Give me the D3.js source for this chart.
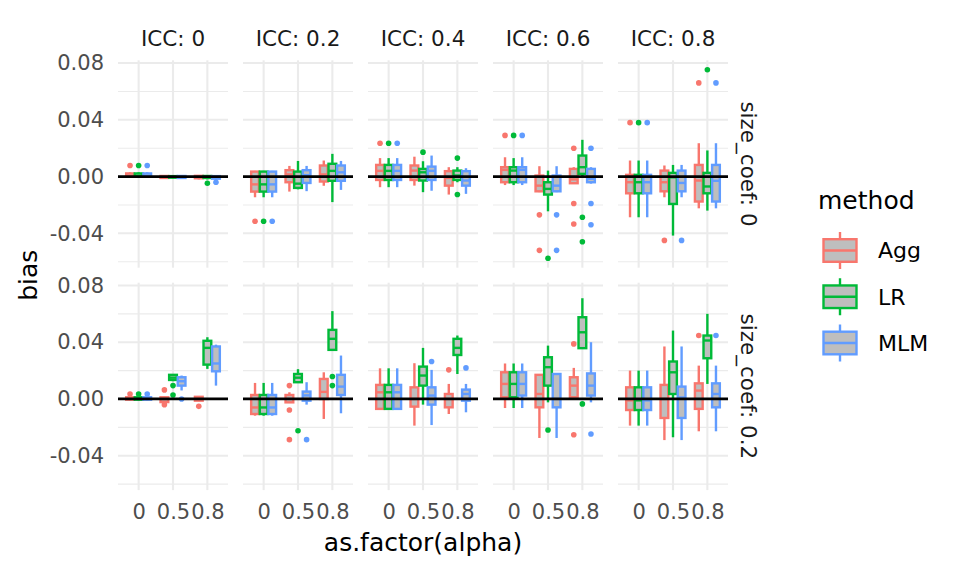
<!DOCTYPE html>
<html>
<head>
<meta charset="utf-8">
<script src="https://cdn.jsdelivr.net/npm/d3@7"></script>
<style>
  body { margin: 0; background: #fff; }
  text { font-family: "DejaVu Sans", "Liberation Sans", Arial, sans-serif; }
</style>
</head>
<body>
<svg id="chart" width="960" height="576"></svg>
<script>
// facet levels
const iccLevels = [0, 0.2, 0.4, 0.6, 0.8];
const sizeCoefs = [0, 0.2];
const alphaLevels = ["0", "0.5", "0.8"];
const methods = ["Agg", "LR", "MLM"];
const methodColors = ["#F8766D", "#00BA38", "#619CFF"];
const yTicks = [-0.04, 0, 0.04, 0.08];
const yMinor = [-0.06, -0.02, 0.02, 0.06];

// box stats: [icc, alpha, method, lower, q1, median, q3, upper]
const boxesSize0 = [
  [0, "0", "Agg", -0.0003, 0, 0.0005, 0.0022, 0.003],
  [0, "0", "LR", -0.0003, 0, 0.0005, 0.0022, 0.003],
  [0, "0", "MLM", -0.0003, 0, 0.0005, 0.0022, 0.003],
  [0, "0.5", "Agg", -0.0015, -0.001, -0.0002, 0.0004, 0.001],
  [0, "0.5", "LR", -0.0012, -0.0008, -0.0002, 0.0003, 0.0008],
  [0, "0.5", "MLM", -0.0015, -0.001, -0.0002, 0.0004, 0.001],
  [0, "0.8", "Agg", -0.002, -0.0012, -0.0003, 0.0005, 0.001],
  [0, "0.8", "LR", -0.002, -0.001, 0, 0.0004, 0.001],
  [0, "0.8", "MLM", -0.0025, -0.0015, -0.0005, 0.0003, 0.001],
  [0.2, "0", "Agg", -0.0146, -0.0106, -0.0055, 0.0035, 0.004],
  [0.2, "0", "LR", -0.0146, -0.0106, -0.0055, 0.0035, 0.004],
  [0.2, "0", "MLM", -0.0146, -0.0106, -0.0055, 0.0035, 0.004],
  [0.2, "0.5", "Agg", -0.0106, -0.004, 0.0015, 0.0045, 0.0075],
  [0.2, "0.5", "LR", -0.009, -0.008, -0.005, 0.0035, 0.011],
  [0.2, "0.5", "MLM", -0.0103, -0.0045, 0.001, 0.0045, 0.0075],
  [0.2, "0.8", "Agg", -0.0065, -0.0035, 0.0015, 0.0078, 0.0113],
  [0.2, "0.8", "LR", -0.018, -0.003, 0.004, 0.009, 0.016],
  [0.2, "0.8", "MLM", -0.0094, -0.003, 0.003, 0.0078, 0.011],
  [0.4, "0", "Agg", -0.0075, -0.0024, 0.004, 0.0082, 0.013],
  [0.4, "0", "LR", -0.0075, -0.0024, 0.004, 0.0082, 0.013],
  [0.4, "0", "MLM", -0.0075, -0.0024, 0.004, 0.0082, 0.013],
  [0.4, "0.5", "Agg", -0.0064, -0.0024, 0.0042, 0.0078, 0.014],
  [0.4, "0.5", "LR", -0.011, -0.0028, 0.003, 0.0054, 0.0108],
  [0.4, "0.5", "MLM", -0.01, -0.0024, 0.004, 0.007, 0.0148],
  [0.4, "0.8", "Agg", -0.0127, -0.0064, -0.001, 0.0038, 0.0066],
  [0.4, "0.8", "LR", -0.004, -0.0024, 0.0007, 0.0042, 0.0066],
  [0.4, "0.8", "MLM", -0.0122, -0.0064, -0.0028, 0.0038, 0.0059],
  [0.6, "0", "Agg", -0.006, -0.004, 0.0047, 0.0066, 0.0136],
  [0.6, "0", "LR", -0.006, -0.004, 0.0042, 0.0066, 0.013],
  [0.6, "0", "MLM", -0.006, -0.004, 0.0047, 0.0066, 0.0136],
  [0.6, "0.5", "Agg", -0.011, -0.0104, -0.0064, 0.0007, 0.0073],
  [0.6, "0.5", "LR", -0.0245, -0.0127, -0.0087, -0.004, 0.0042],
  [0.6, "0.5", "MLM", -0.011, -0.0104, -0.0064, 0.0007, 0.0073],
  [0.6, "0.8", "Agg", -0.005, -0.0047, -0.002, 0.0054, 0.0066],
  [0.6, "0.8", "LR", -0.0005, 0.0019, 0.0066, 0.0148, 0.0259],
  [0.6, "0.8", "MLM", -0.005, -0.004, -0.0016, 0.0054, 0.0066],
  [0.8, "0", "Agg", -0.0287, -0.0118, -0.004, 0.0012, 0.0113],
  [0.8, "0", "LR", -0.0287, -0.0118, -0.004, 0.0012, 0.0113],
  [0.8, "0", "MLM", -0.0287, -0.0118, -0.004, 0.0012, 0.0113],
  [0.8, "0.5", "Agg", -0.0146, -0.0104, -0.004, 0.0042, 0.0078],
  [0.8, "0.5", "LR", -0.0416, -0.0193, -0.0005, 0.0026, 0.0082],
  [0.8, "0.5", "MLM", -0.0146, -0.0104, -0.0045, 0.0042, 0.0082],
  [0.8, "0.8", "Agg", -0.0224, -0.0176, -0.0028, 0.0082, 0.0235],
  [0.8, "0.8", "LR", -0.024, -0.0118, -0.007, 0.0026, 0.0184],
  [0.8, "0.8", "MLM", -0.0224, -0.0176, -0.003, 0.0082, 0.0235]
];

const boxesSize02 = [
  [0, "0", "Agg", -0.001, -0.0005, 0.0003, 0.0012, 0.0018],
  [0, "0", "LR", -0.001, -0.0005, 0.0003, 0.0012, 0.0018],
  [0, "0", "MLM", -0.001, -0.0005, 0.0003, 0.0012, 0.0018],
  [0, "0.5", "Agg", -0.0025, -0.0022, -0.0002, 0.0012, 0.0016],
  [0, "0.5", "LR", 0.0125, 0.0134, 0.015, 0.017, 0.0175],
  [0, "0.5", "MLM", 0.006, 0.0094, 0.0125, 0.0153, 0.0165],
  [0, "0.8", "Agg", -0.0016, -0.0012, 0, 0.0015, 0.002],
  [0, "0.8", "LR", 0.0212, 0.0242, 0.036, 0.041, 0.0435],
  [0, "0.8", "MLM", 0.0094, 0.0195, 0.025, 0.037, 0.0383],
  [0.2, "0", "Agg", -0.0118, -0.0106, -0.006, 0.0028, 0.0113],
  [0.2, "0", "LR", -0.0118, -0.0106, -0.006, 0.0028, 0.0113],
  [0.2, "0", "MLM", -0.0118, -0.0106, -0.006, 0.0028, 0.0113],
  [0.2, "0.5", "Agg", -0.0028, -0.0024, 0, 0.0028, 0.0047],
  [0.2, "0.5", "LR", 0.0115, 0.0118, 0.015, 0.0176, 0.021],
  [0.2, "0.5", "MLM", -0.004, -0.0012, 0.0025, 0.0052, 0.0118],
  [0.2, "0.8", "Agg", -0.0141, 0, 0.005, 0.0141, 0.0188],
  [0.2, "0.8", "LR", 0.034, 0.0346, 0.0424, 0.0487, 0.0619],
  [0.2, "0.8", "MLM", -0.0101, 0.0028, 0.0087, 0.017, 0.0306],
  [0.4, "0", "Agg", -0.0075, -0.007, 0.0047, 0.0099, 0.0216],
  [0.4, "0", "LR", -0.0075, -0.007, 0.0047, 0.0099, 0.0216],
  [0.4, "0", "MLM", -0.0075, -0.007, 0.0047, 0.0099, 0.0216],
  [0.4, "0.5", "Agg", -0.0188, -0.0054, 0, 0.0082, 0.0252],
  [0.4, "0.5", "LR", -0.004, 0.0094, 0.0165, 0.0228, 0.036],
  [0.4, "0.5", "MLM", -0.0184, -0.004, 0.0024, 0.0082, 0.0205],
  [0.4, "0.8", "Agg", -0.0106, -0.0059, 0, 0.0035, 0.0106],
  [0.4, "0.8", "LR", 0.0176, 0.031, 0.036, 0.0424, 0.0447],
  [0.4, "0.8", "MLM", -0.0094, -0.0012, 0.0035, 0.0066, 0.0106],
  [0.6, "0", "Agg", -0.0064, 0.0012, 0.0106, 0.0188, 0.025],
  [0.6, "0", "LR", -0.0064, 0.0012, 0.0106, 0.0188, 0.025],
  [0.6, "0", "MLM", -0.0064, 0.0024, 0.0106, 0.0188, 0.025],
  [0.6, "0.5", "Agg", -0.0275, -0.0059, 0.0035, 0.017, 0.0175],
  [0.6, "0.5", "LR", -0.0024, 0.0094, 0.0224, 0.0294, 0.0376],
  [0.6, "0.5", "MLM", -0.0275, -0.0059, 0, 0.0176, 0.018],
  [0.6, "0.8", "Agg", 0.001, 0.0012, 0.0094, 0.0153, 0.0219],
  [0.6, "0.8", "LR", 0.0355, 0.0358, 0.047, 0.0576, 0.071],
  [0.6, "0.8", "MLM", -0.0024, 0.0024, 0.0094, 0.018, 0.04],
  [0.8, "0", "Agg", -0.0188, -0.0078, -0.001, 0.0082, 0.02],
  [0.8, "0", "LR", -0.0188, -0.0078, -0.001, 0.0082, 0.02],
  [0.8, "0", "MLM", -0.0188, -0.0078, -0.001, 0.0082, 0.02],
  [0.8, "0.5", "Agg", -0.029, -0.0134, 0, 0.0099, 0.037],
  [0.8, "0.5", "LR", -0.027, 0.0035, 0.0188, 0.0264, 0.0482],
  [0.8, "0.5", "MLM", -0.029, -0.0134, 0.001, 0.0087, 0.037],
  [0.8, "0.8", "Agg", -0.0228, -0.007, 0.0059, 0.011, 0.0235],
  [0.8, "0.8", "LR", 0.0106, 0.0287, 0.0412, 0.0447, 0.06],
  [0.8, "0.8", "MLM", -0.0228, -0.0059, 0.0035, 0.011, 0.0235]
];

// outlier points: [icc, alpha, method, value]
const outliersSize0 = [
  [0, "0", "Agg", 0.0078], [0, "0", "LR", 0.0078], [0, "0", "MLM", 0.0078],
  [0, "0.8", "LR", -0.0047], [0, "0.8", "MLM", -0.004],
  [0.2, "0", "Agg", -0.0315], [0.2, "0", "LR", -0.0315], [0.2, "0", "MLM", -0.0315],
  [0.4, "0", "Agg", 0.0235], [0.4, "0", "LR", 0.0235], [0.4, "0", "MLM", 0.0235],
  [0.4, "0.5", "LR", 0.0172],
  [0.4, "0.8", "LR", 0.013], [0.4, "0.8", "LR", -0.0127],
  [0.6, "0", "Agg", 0.029], [0.6, "0", "LR", 0.029], [0.6, "0", "MLM", 0.029],
  [0.6, "0.5", "Agg", -0.027], [0.6, "0.5", "Agg", -0.052], [0.6, "0.5", "LR", -0.0576],
  [0.6, "0.5", "MLM", -0.027], [0.6, "0.5", "MLM", -0.052],
  [0.6, "0.8", "Agg", 0.02], [0.6, "0.8", "Agg", -0.019], [0.6, "0.8", "Agg", -0.0334],
  [0.6, "0.8", "LR", -0.0287], [0.6, "0.8", "LR", -0.046],
  [0.6, "0.8", "MLM", 0.02], [0.6, "0.8", "MLM", -0.019], [0.6, "0.8", "MLM", -0.034],
  [0.8, "0", "Agg", 0.038], [0.8, "0", "LR", 0.038], [0.8, "0", "MLM", 0.038],
  [0.8, "0.5", "Agg", -0.045], [0.8, "0.5", "MLM", -0.045],
  [0.8, "0.8", "Agg", 0.066], [0.8, "0.8", "LR", 0.0753], [0.8, "0.8", "MLM", 0.066]
];

const outliersSize02 = [
  [0, "0", "Agg", 0.0035], [0, "0", "LR", 0.0035], [0, "0", "MLM", 0.0035],
  [0, "0.5", "Agg", 0.0064], [0, "0.5", "Agg", -0.004],
  [0, "0.5", "LR", 0.0094], [0, "0.5", "LR", 0.0028], [0, "0.5", "MLM", 0],
  [0, "0.8", "Agg", -0.0052],
  [0.2, "0.5", "Agg", 0.0094], [0.2, "0.5", "Agg", -0.0078], [0.2, "0.5", "Agg", -0.0287],
  [0.2, "0.5", "LR", -0.0224], [0.2, "0.5", "MLM", -0.0287],
  [0.2, "0.8", "LR", 0.0158], [0.2, "0.8", "LR", 0.0094],
  [0.4, "0.5", "MLM", 0.0264],
  [0.4, "0.8", "Agg", 0.0205], [0.4, "0.8", "MLM", 0.0219],
  [0.6, "0.5", "LR", -0.0219],
  [0.6, "0.8", "Agg", 0.0388], [0.6, "0.8", "Agg", -0.0252],
  [0.6, "0.8", "LR", -0.0035], [0.6, "0.8", "MLM", -0.0247],
  [0.8, "0.8", "Agg", 0.0447], [0.8, "0.8", "MLM", 0.0447]
];

// layout
const panelW = 110;
const panelH = 207.4;
const panelLeft = 118;
const panelTop = 60.3;
const gap = 15;
const boxFill = "#BEBEBE";
const gridColor = "#EBEBEB";
const lw = 2.4;
const fontStack = "'DejaVu Sans', 'Liberation Sans', Arial, sans-serif";

const svg = d3.select("#chart");

const rows = [
  { coef: sizeCoefs[0], boxes: boxesSize0, outliers: outliersSize0 },
  { coef: sizeCoefs[1], boxes: boxesSize02, outliers: outliersSize02 }
];

// shared (fixed) y scale with 5% expansion like ggplot
const allVals = [];
rows.forEach(r => {
  r.boxes.forEach(d => allVals.push(d[3], d[7]));
  r.outliers.forEach(d => allVals.push(d[3]));
});
const [vMin, vMax] = d3.extent(allVals);
const pad = (vMax - vMin) * 0.05;
const y = d3.scaleLinear().domain([vMin - pad, vMax + pad]).range([panelH, 0]);
const x = d3.scalePoint().domain(alphaLevels).range([0, panelW]).padding(0.6);
const dodge = d3.scaleBand().domain(methods).range([-0.375 * x.step(), 0.375 * x.step()]);
const color = d3.scaleOrdinal().domain(methods).range(methodColors);
const bw = dodge.bandwidth() * 0.9;

rows.forEach((row, r) => {
  iccLevels.forEach((icc, c) => {
    const g = svg.append("g")
      .attr("transform", `translate(${panelLeft + c * (panelW + gap)},${panelTop + r * (panelH + gap)})`);

    // grid
    g.selectAll("line.minor").data(yMinor).join("line")
      .attr("class", "minor")
      .attr("x1", 0).attr("x2", panelW)
      .attr("y1", d => y(d)).attr("y2", d => y(d))
      .attr("stroke", gridColor).attr("stroke-width", 1.1);
    g.selectAll("line.major").data(yTicks).join("line")
      .attr("class", "major")
      .attr("x1", 0).attr("x2", panelW)
      .attr("y1", d => y(d)).attr("y2", d => y(d))
      .attr("stroke", gridColor).attr("stroke-width", 2.1);
    g.selectAll("line.vgrid").data(alphaLevels).join("line")
      .attr("class", "vgrid")
      .attr("x1", d => x(d)).attr("x2", d => x(d))
      .attr("y1", 0).attr("y2", panelH)
      .attr("stroke", gridColor).attr("stroke-width", 2.1);

    const boxes = row.boxes.filter(d => d[0] === icc);
    const outs = row.outliers.filter(d => d[0] === icc);

    const grp = g.selectAll("g.box").data(boxes).join("g")
      .attr("class", "box")
      .attr("transform", d => `translate(${x(d[1]) + dodge(d[2]) + dodge.bandwidth() / 2},0)`);

    grp.each(function(d) {
      const sel = d3.select(this);
      const col = color(d[2]);
      sel.selectAll("circle")
        .data(outs.filter(o => o[1] === d[1] && o[2] === d[2]))
        .join("circle")
        .attr("cx", 0).attr("cy", o => y(o[3])).attr("r", 2.8)
        .attr("fill", col);
      // whiskers
      sel.append("line")
        .attr("x1", 0).attr("x2", 0)
        .attr("y1", y(d[7])).attr("y2", y(d[6]))
        .attr("stroke", col).attr("stroke-width", lw);
      sel.append("line")
        .attr("x1", 0).attr("x2", 0)
        .attr("y1", y(d[4])).attr("y2", y(d[3]))
        .attr("stroke", col).attr("stroke-width", lw);
      // box
      sel.append("rect")
        .attr("x", -bw / 2).attr("width", bw)
        .attr("y", y(d[6])).attr("height", Math.max(0.01, y(d[4]) - y(d[6])))
        .attr("fill", boxFill).attr("stroke", col).attr("stroke-width", lw);
      // median
      sel.append("line")
        .attr("x1", -bw / 2).attr("x2", bw / 2)
        .attr("y1", y(d[5])).attr("y2", y(d[5]))
        .attr("stroke", col).attr("stroke-width", lw);
    });

    // reference line at zero
    g.append("line")
      .attr("x1", 0).attr("x2", panelW)
      .attr("y1", y(0)).attr("y2", y(0))
      .attr("stroke", "#000").attr("stroke-width", 2.8);

    // top strips
    if (r === 0) {
      g.append("text")
        .attr("x", panelW / 2).attr("y", -14.8)
        .attr("text-anchor", "middle")
        .attr("font-size", 21.5).attr("fill", "#1A1A1A")
        .text("ICC: " + icc);
    }

    // right strips
    if (c === iccLevels.length - 1) {
      g.append("text")
        .attr("transform", `translate(${panelW + 21},${panelH / 2}) rotate(90)`)
        .attr("text-anchor", "middle")
        .attr("dy", "0.35em")
        .attr("font-size", 21.5).attr("fill", "#1A1A1A")
        .text("size_coef: " + row.coef);
    }

    // y axis on first column
    if (c === 0) {
      const ax = g.append("g")
        .call(d3.axisLeft(y).tickValues(yTicks).tickSize(0).tickPadding(14)
          .tickFormat(d => d.toFixed(2)));
      ax.select(".domain").remove();
      ax.selectAll("text").attr("font-size", 21).attr("fill", "#4D4D4D")
        .style("font-family", fontStack);
    }

    // x axis on bottom row
    if (r === rows.length - 1) {
      const ax = g.append("g")
        .attr("transform", `translate(0,${panelH})`)
        .call(d3.axisBottom(x).tickSize(0).tickPadding(14));
      ax.select(".domain").remove();
      ax.selectAll("text").attr("font-size", 21).attr("fill", "#4D4D4D")
        .style("font-family", fontStack);
    }
  });
});

// axis titles
const plotMid = panelLeft + (iccLevels.length * panelW + (iccLevels.length - 1) * gap) / 2;
svg.append("text")
  .attr("x", plotMid).attr("y", 551)
  .attr("text-anchor", "middle")
  .attr("font-size", 25).attr("fill", "#000")
  .text("as.factor(alpha)");

svg.append("text")
  .attr("transform", `translate(36.5,${panelTop + panelH + gap / 2}) rotate(-90)`)
  .attr("text-anchor", "middle")
  .attr("font-size", 25).attr("fill", "#000")
  .text("bias");

// legend
const legend = svg.append("g").attr("transform", "translate(818,0)");
legend.append("text")
  .attr("x", 0).attr("y", 209)
  .attr("font-size", 25).attr("fill", "#000")
  .text("method");

const keyY = d3.scalePoint().domain(methods).range([250.5, 343]);
const keys = legend.selectAll("g.key").data(methods).join("g")
  .attr("class", "key")
  .attr("transform", d => `translate(22,${keyY(d)})`);
keys.append("line")
  .attr("x1", 0).attr("x2", 0).attr("y1", -18.5).attr("y2", 18.5)
  .attr("stroke", d => color(d)).attr("stroke-width", lw);
keys.append("rect")
  .attr("x", -16.5).attr("y", -11.3).attr("width", 33).attr("height", 22.6)
  .attr("fill", boxFill).attr("stroke", d => color(d)).attr("stroke-width", lw);
keys.append("line")
  .attr("x1", -16.5).attr("x2", 16.5).attr("y1", 0).attr("y2", 0)
  .attr("stroke", d => color(d)).attr("stroke-width", lw);
keys.append("text")
  .attr("x", 38).attr("dy", "0.36em")
  .attr("font-size", 22).attr("fill", "#000")
  .text(d => d);
</script>
</body>
</html>
